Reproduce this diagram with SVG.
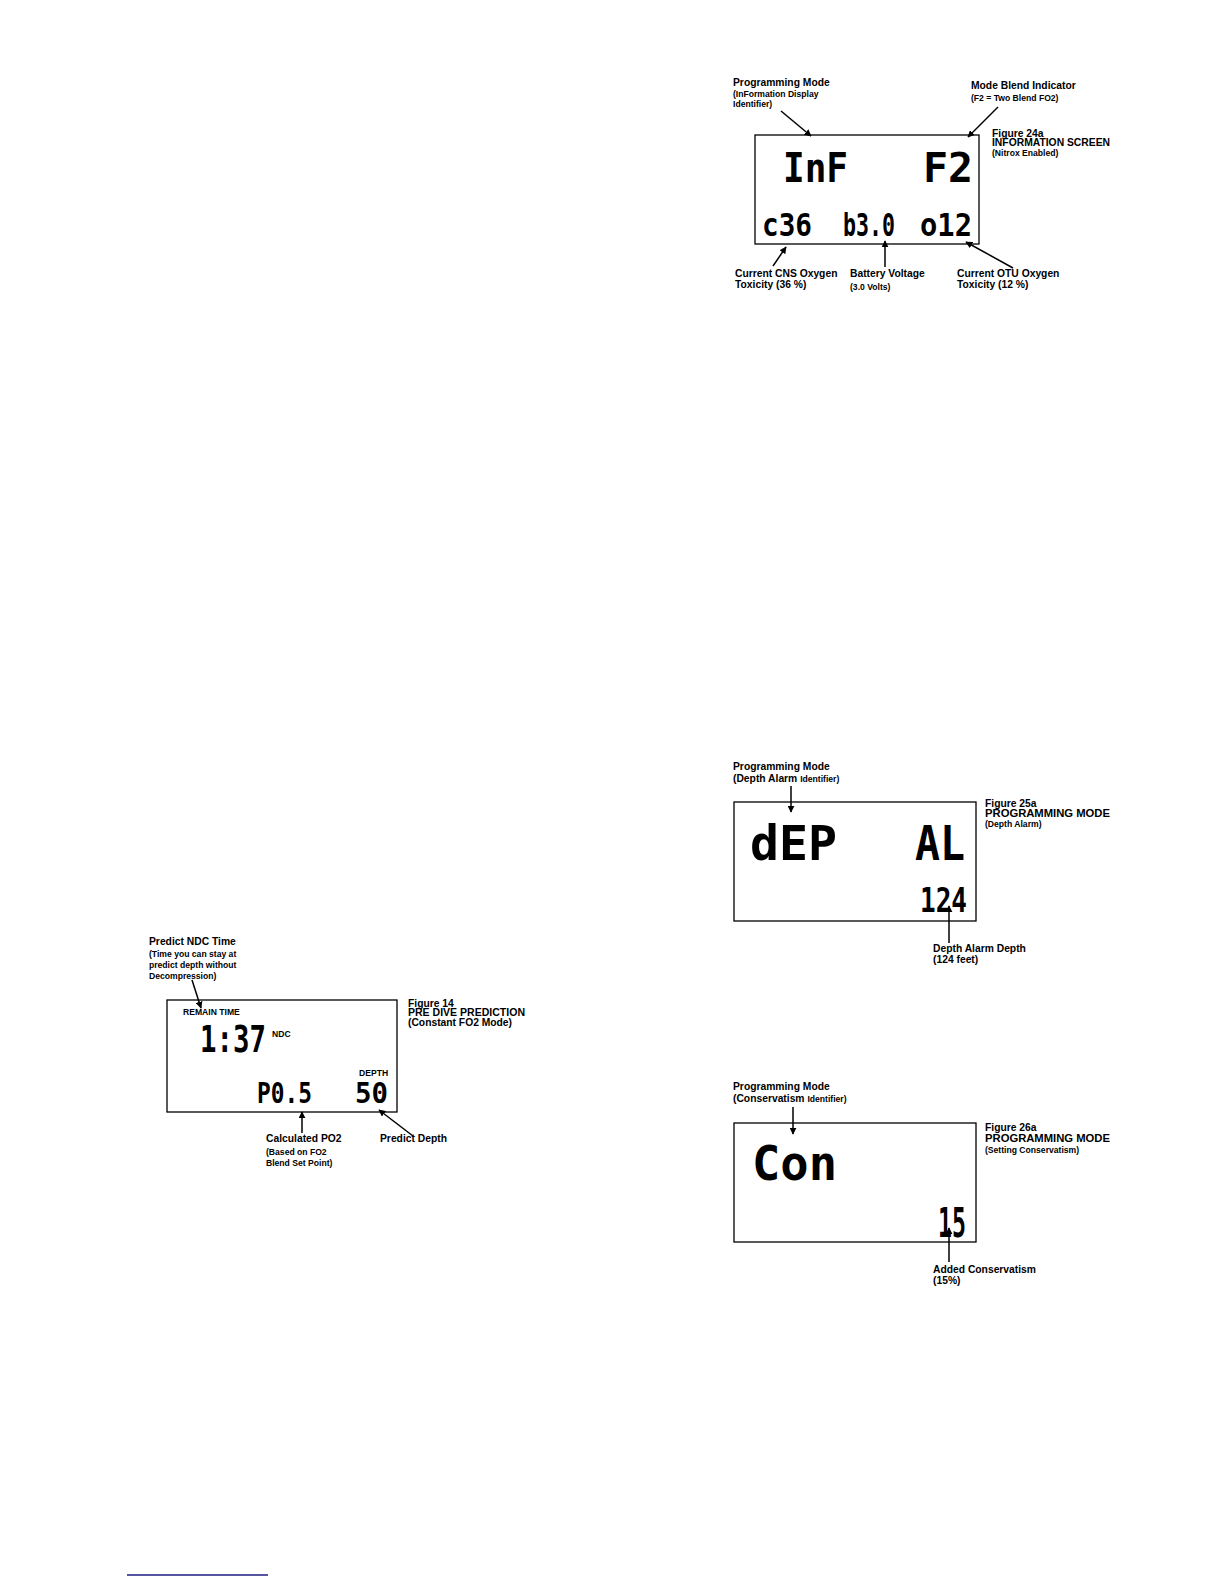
<svg xmlns="http://www.w3.org/2000/svg" width="1224" height="1584" viewBox="0 0 1224 1584">
<style>
.lbl{font-family:"Liberation Sans",Arial,sans-serif;font-weight:bold;font-size:10.3px;fill:#000}
.sm{font-family:"Liberation Sans",Arial,sans-serif;font-weight:bold;font-size:8.6px;fill:#000}
.fig{font-family:"Liberation Sans",Arial,sans-serif;font-weight:bold;font-size:10.3px;fill:#000}
.lcd{font-family:"DejaVu Sans Mono",monospace;font-weight:bold;fill:#000}
.box{fill:#fff;stroke:#000;stroke-width:1.3}
.arr{stroke:#000;stroke-width:1.5;fill:none;marker-end:url(#ah)}
</style>
<defs>
<marker id="ah" viewBox="0 0 10 10" refX="9" refY="5" markerWidth="7" markerHeight="7" markerUnits="userSpaceOnUse" orient="auto">
<path d="M0,0 L10,5 L0,10 z" fill="#000"/>
</marker>
</defs>
<rect width="1224" height="1584" fill="#fff"/>

<g id="fig24a">
<rect class="box" x="755" y="135" width="224" height="109"/>
<text class="lcd" x="783" y="182" font-size="40" textLength="65" lengthAdjust="spacingAndGlyphs">InF</text>
<text class="lcd" x="923" y="182" font-size="40" textLength="50" lengthAdjust="spacingAndGlyphs">F2</text>
<text class="lcd" x="762" y="236" font-size="32" textLength="50" lengthAdjust="spacingAndGlyphs">c36</text>
<text class="lcd" x="843" y="236" font-size="32" textLength="52" lengthAdjust="spacingAndGlyphs">b3.0</text>
<text class="lcd" x="920" y="236" font-size="32" textLength="52" lengthAdjust="spacingAndGlyphs">o12</text>
<g id="lbl24-prog">
<text class="lbl" x="733" y="86">Programming Mode</text>
<text class="sm" x="733" y="97">(InFormation Display</text>
<text class="sm" x="733" y="107">Identifier)</text>
</g>
<g id="lbl24-blend">
<text class="lbl" x="971" y="89">Mode Blend Indicator</text>
<text class="sm" x="971" y="101">(F2 = Two Blend FO2)</text>
</g>
<g id="lbl24-fig">
<text class="fig" x="992" y="137">Figure  24a</text>
<text class="fig" x="992" y="146" textLength="118" lengthAdjust="spacingAndGlyphs">INFORMATION SCREEN</text>
<text class="sm" x="992" y="156">(Nitrox Enabled)</text>
</g>
<g id="lbl24-cns">
<text class="lbl" x="735" y="277">Current CNS Oxygen</text>
<text class="lbl" x="735" y="288">Toxicity (36 %)</text>
</g>
<g id="lbl24-bat">
<text class="lbl" x="850" y="277">Battery Voltage</text>
<text class="sm" x="850" y="290">(3.0 Volts)</text>
</g>
<g id="lbl24-otu">
<text class="lbl" x="957" y="277">Current OTU Oxygen</text>
<text class="lbl" x="957" y="288">Toxicity (12 %)</text>
</g>
</g>

<g id="fig25a">
<rect class="box" x="734" y="802" width="242" height="119"/>
<text class="lcd" x="750" y="860" font-size="48" textLength="87" lengthAdjust="spacingAndGlyphs">dEP</text>
<text class="lcd" x="915" y="860" font-size="48" textLength="50" lengthAdjust="spacingAndGlyphs">AL</text>
<text class="lcd" x="920" y="912" font-size="33" textLength="47" lengthAdjust="spacingAndGlyphs">124</text>
<g id="lbl25-prog">
<text class="lbl" x="733" y="770">Programming Mode</text>
<text class="lbl" x="733" y="782">(Depth Alarm <tspan font-size="8.6">Identifier)</tspan></text>
</g>
<g id="lbl25-fig">
<text class="fig" x="985" y="807">Figure  25a</text>
<text class="fig" x="985" y="817" textLength="125" lengthAdjust="spacingAndGlyphs">PROGRAMMING  MODE</text>
<text class="sm" x="985" y="827">(Depth Alarm)</text>
</g>
<g id="lbl25-depth">
<text class="lbl" x="933" y="952">Depth Alarm Depth</text>
<text class="lbl" x="933" y="963">(124 feet)</text>
</g>
</g>

<g id="fig26a">
<rect class="box" x="734" y="1123" width="242" height="119"/>
<text class="lcd" x="752" y="1180" font-size="48" textLength="85" lengthAdjust="spacingAndGlyphs">Con</text>
<text class="lcd" x="938" y="1237" font-size="40" textLength="28" lengthAdjust="spacingAndGlyphs">15</text>
<g id="lbl26-prog">
<text class="lbl" x="733" y="1090">Programming Mode</text>
<text class="lbl" x="733" y="1102">(Conservatism <tspan font-size="8.6">Identifier)</tspan></text>
</g>
<g id="lbl26-fig">
<text class="fig" x="985" y="1131">Figure  26a</text>
<text class="fig" x="985" y="1142" textLength="125" lengthAdjust="spacingAndGlyphs">PROGRAMMING  MODE</text>
<text class="sm" x="985" y="1153">(Setting Conservatism)</text>
</g>
<g id="lbl26-cons">
<text class="lbl" x="933" y="1273">Added Conservatism</text>
<text class="lbl" x="933" y="1284">(15%)</text>
</g>
</g>

<g id="fig14">
<rect class="box" x="167" y="1000" width="230" height="112"/>
<text class="sm" x="183" y="1015" font-size="9.3">REMAIN TIME</text>
<text class="lcd" transform="translate(200,1052) scale(0.72,1)" x="0" y="0" font-size="38">1:37</text>
<text class="sm" x="272" y="1037">NDC</text>
<text class="sm" x="359" y="1076" font-size="9.3">DEPTH</text>
<text class="lcd" x="257" y="1103" font-size="29" textLength="55" lengthAdjust="spacingAndGlyphs">P0.5</text>
<text class="lcd" x="355" y="1103" font-size="29" textLength="33" lengthAdjust="spacingAndGlyphs">50</text>
<g id="lbl14-ndc">
<text class="lbl" x="149" y="945">Predict NDC Time</text>
<text class="sm" x="149" y="957">(Time you can stay at</text>
<text class="sm" x="149" y="968">predict depth without</text>
<text class="sm" x="149" y="979">Decompression)</text>
</g>
<g id="lbl14-fig">
<text class="fig" x="408" y="1007">Figure  14</text>
<text class="fig" x="408" y="1016" textLength="117" lengthAdjust="spacingAndGlyphs">PRE DIVE  PREDICTION</text>
<text class="fig" x="408" y="1026" textLength="104" lengthAdjust="spacingAndGlyphs">(Constant FO2 Mode)</text>
</g>
<g id="lbl14-po2">
<text class="lbl" x="266" y="1142">Calculated PO2</text>
<text class="sm" x="266" y="1155">(Based on FO2</text>
<text class="sm" x="266" y="1166">Blend Set Point)</text>
</g>
<g id="lbl14-depth">
<text class="lbl" x="380" y="1142">Predict Depth</text>
</g>
</g>

<g id="connectors">
<line class="arr" x1="781" y1="111" x2="811" y2="136"/>
<line class="arr" x1="998" y1="107" x2="968" y2="137"/>
<line class="arr" x1="773" y1="266" x2="786" y2="247"/>
<line class="arr" x1="885" y1="267" x2="885" y2="241"/>
<line class="arr" x1="1013" y1="268" x2="966" y2="242"/>
<line class="arr" x1="791" y1="786" x2="791" y2="812"/>
<line class="arr" x1="949" y1="943" x2="949" y2="906"/>
<line class="arr" x1="793" y1="1107" x2="793" y2="1134"/>
<line class="arr" x1="949" y1="1262" x2="949" y2="1228"/>
<line class="arr" x1="192" y1="980" x2="201" y2="1008"/>
<line class="arr" x1="302" y1="1133" x2="302" y2="1112"/>
<line class="arr" x1="413" y1="1136" x2="379" y2="1110"/>
</g>

<line x1="127" y1="1575" x2="268" y2="1575" stroke="#1c1c80" stroke-width="1.5"/>
</svg>
